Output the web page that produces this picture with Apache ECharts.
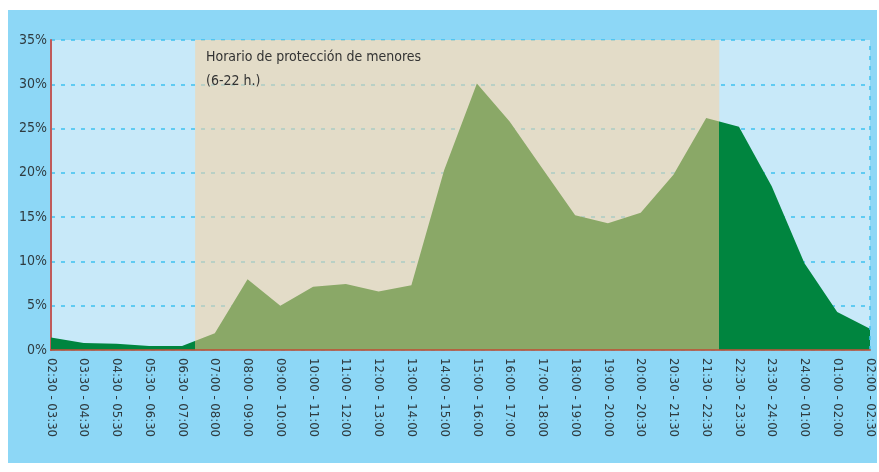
<!DOCTYPE html>
<html>
<head>
<meta charset="utf-8">
<script src="https://cdn.jsdelivr.net/npm/echarts@6/dist/echarts.min.js"></script>
<style>
  * { margin: 0; padding: 0; }
  body { background: #fff; }
  #chart { width: 879px; height: 472px; }
</style>
</head>
<body>
<div id="chart"></div>
<script>
// franjas horarias (eje x)
const franjas = [
  '02:30 - 03:30', '03:30 - 04:30', '04:30 - 05:30', '05:30 - 06:30', '06:30 - 07:00',
  '07:00 - 08:00', '08:00 - 09:00', '09:00 - 10:00', '10:00 - 11:00', '11:00 - 12:00',
  '12:00 - 13:00', '13:00 - 14:00', '14:00 - 15:00', '15:00 - 16:00', '16:00 - 17:00',
  '17:00 - 18:00', '18:00 - 19:00', '19:00 - 20:00', '20:00 - 20:30', '20:30 - 21:30',
  '21:30 - 22:30', '22:30 - 23:30', '23:30 - 24:00', '24:00 - 01:00', '01:00 - 02:00',
  '02:00 - 02:30'
]
// porcentaje por franja
const porcentajes = [
  1.4, 0.8, 0.7, 0.45, 0.45,
  1.9, 8.0, 5.0, 7.15, 7.45,
  6.6, 7.3, 20.3, 30.1, 25.8,
  20.5, 15.2, 14.3, 15.5, 19.8,
  26.2, 25.2, 18.5, 9.8, 4.3,
  2.4
]
// horario de protección (6-22 h.) en posiciones del eje
const horarioProteccion = [4.4, 20.4]
const yTicks = [0, 5, 10, 15, 20, 25, 30, 35]

const verdeOscuro = '#00853f'
const verdeClaro = '#8aa867'
const fuente = '"Liberation Sans Narrow", "DejaVu Sans Condensed", Roboto, sans-serif'

var chart = echarts.init(document.getElementById('chart'))

var option = {
  animation: false,
  backgroundColor: '#fff',
  graphic: [
    {
      type: 'rect',
      z: -10,
      shape: { x: 8, y: 10, width: 869, height: 453 },
      style: { fill: '#8dd7f6' }
    }
  ],
  title: {
    left: 201,
    top: 40,
    text: 'Horario de protección de menores\n(6-22 h.)',
    textStyle: {
      fontFamily: fuente,
      fontSize: 14,
      fontWeight: 'normal',
      color: '#333',
      lineHeight: 24
    }
  },
  grid: {
    left: 51,
    right: 9,
    top: 40,
    bottom: 122,
    show: true,
    backgroundColor: '#c8e9f9',
    borderWidth: 0
  },
  xAxis: {
    type: 'value',
    min: 0,
    max: franjas.length - 1,
    interval: 1,
    z: 10,
    axisLine: { show: true, onZero: false, lineStyle: { color: 'rgba(190,80,55,0.8)', width: 2 } },
    axisTick: { show: false },
    splitLine: { show: false },
    axisLabel: {
      rotate: -90,
      margin: 8,
      showMinLabel: true,
      showMaxLabel: true,
      fontFamily: fuente,
      fontSize: 13,
      color: '#2f3b40',
      formatter: function (v) { return franjas[v] || '' }
    }
  },
  yAxis: {
    type: 'value',
    min: yTicks[0],
    max: yTicks[yTicks.length - 1],
    interval: 5,
    axisLine: { show: true, lineStyle: { color: '#c05a5a', width: 2 } },
    axisTick: { show: false },
    axisLabel: {
      margin: 4,
      fontFamily: fuente,
      fontSize: 14,
      color: '#2f3b40',
      formatter: '{value}%'
    },
    splitLine: {
      show: true,
      lineStyle: { color: '#3ec1ef', type: [4, 6], width: 1.5 }
    }
  },
  visualMap: {
    show: false,
    type: 'piecewise',
    dimension: 0,
    seriesIndex: 1,
    pieces: [
      { lt: horarioProteccion[0], color: verdeOscuro },
      { gte: horarioProteccion[0], lt: horarioProteccion[1], color: verdeClaro },
      { gte: horarioProteccion[1], color: verdeOscuro }
    ]
  },
  series: [
    {
      // franja del horario de protección
      type: 'line',
      z: 1,
      silent: true,
      symbol: 'none',
      lineStyle: { width: 0 },
      areaStyle: { color: 'rgba(245,211,167,0.6)', opacity: 1 },
      data: [[horarioProteccion[0], 35], [horarioProteccion[1], 35]],
      markLine: {
        silent: true,
        symbol: 'none',
        label: { show: false },
        lineStyle: { color: '#3ec1ef', type: [4, 6], width: 1.5 },
        data: [{ xAxis: franjas.length - 1 }]
      }
    },
    {
      type: 'line',
      z: 3,
      symbol: 'none',
      lineStyle: { width: 0 },
      areaStyle: { opacity: 1 },
      data: porcentajes.map((v, i) => [i, v])
    }
  ]
}
chart.setOption(option)
</script>
</body>
</html>
